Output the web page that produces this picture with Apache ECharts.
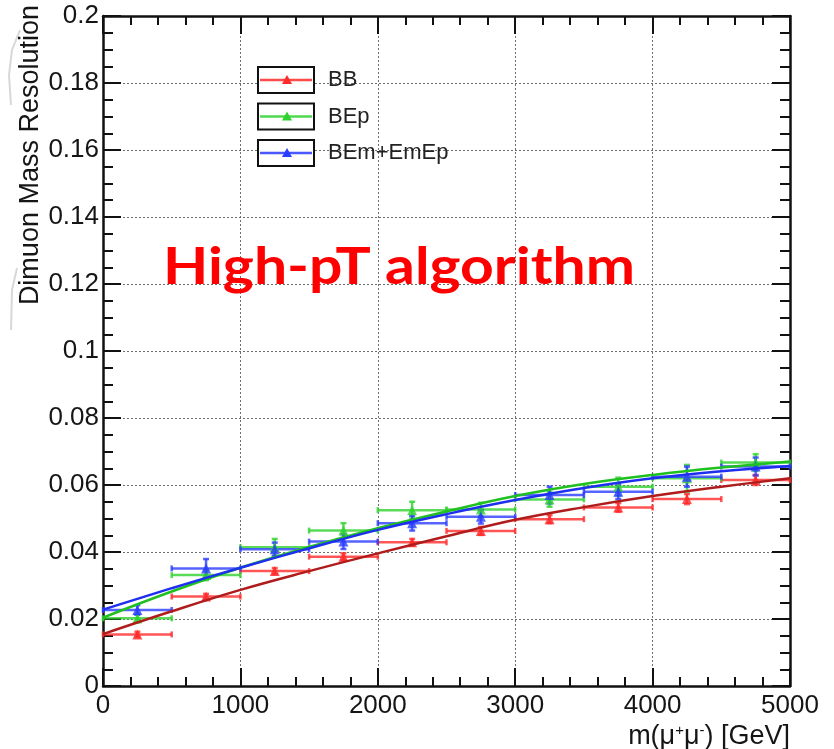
<!DOCTYPE html>
<html>
<head>
<meta charset="utf-8">
<script src="https://cdn.jsdelivr.net/npm/echarts@6/dist/echarts.min.js"></script>
<style>
  html, body { margin: 0; padding: 0; background: #fff; }
  #chart { width: 834px; height: 749px; }
</style>
</head>
<body>
<div id="chart"></div>
<script>
// Dimuon mass bins (GeV): centres and half width
const massCentres = [250, 750, 1250, 1750, 2250, 2750, 3250, 3750, 4250, 4750];
const binHalfWidth = 250;

// Measured resolution per category and its uncertainty
const bbRes   = [0.0154, 0.0267, 0.0343, 0.0386, 0.0429, 0.0463, 0.0498, 0.0533, 0.0558, 0.0615];
const bbErr   = [0.0008, 0.0008, 0.0009, 0.0010, 0.0010, 0.0012, 0.0012, 0.0013, 0.0015, 0.0015];
const bepRes  = [0.0202, 0.0331, 0.0414, 0.0464, 0.0525, 0.0527, 0.0557, 0.0595, 0.0620, 0.0667];
const bepErr  = [0.0012, 0.0015, 0.0025, 0.0022, 0.0025, 0.0020, 0.0022, 0.0027, 0.0040, 0.0025];
const bemRes  = [0.0227, 0.0351, 0.0408, 0.0431, 0.0486, 0.0505, 0.0570, 0.0580, 0.0625, 0.0655];
const bemErr  = [0.0014, 0.0028, 0.0020, 0.0022, 0.0022, 0.0020, 0.0025, 0.0022, 0.0030, 0.0027];

// Fitted resolution curves
const fitMass = [0, 500, 1000, 1500, 2000, 2500, 3000, 3500, 4000, 4500, 5000];
const bbFit   = [0.0155, 0.0223, 0.0287, 0.0343, 0.0396, 0.0447, 0.0496, 0.0534, 0.0567, 0.0595, 0.0620];
const bepFit  = [0.0204, 0.0282, 0.0353, 0.0415, 0.0471, 0.0521, 0.0567, 0.0603, 0.0630, 0.0652, 0.0670];
const bemFit  = [0.0228, 0.0292, 0.0353, 0.0411, 0.0466, 0.0513, 0.0555, 0.0591, 0.0620, 0.0641, 0.0657];

// Axis tick labels
const xTickLabels = ['0', '1000', '2000', '3000', '4000', '5000'];
const yTickLabels = ['0', '0.02', '0.04', '0.06', '0.08', '0.1', '0.12', '0.14', '0.16', '0.18', '0.2'];

const categories = [
  { name: 'BB',         res: bbRes,  err: bbErr,  fit: bbFit,  color: '#ff2a2a', fitColor: '#b01c1c' },
  { name: 'BEp',        res: bepRes, err: bepErr, fit: bepFit, color: '#2fd22f', fitColor: '#1fc01f' },
  { name: 'BEm+EmEp',   res: bemRes, err: bemErr, fit: bemFit, color: '#2a3cff', fitColor: '#1f2ff0' }
];

const chart = echarts.init(document.getElementById('chart'), null, { renderer: 'canvas' });

const labelFont = 'Liberation Sans, Arial, Helvetica, sans-serif';

function errorBarRenderer(color) {
  return function (params, api) {
    const x = api.value(0), y = api.value(1), e = api.value(2);
    const l = api.coord([x - binHalfWidth, y]);
    const r = api.coord([x + binHalfWidth, y]);
    const t = api.coord([x, y + e]);
    const b = api.coord([x, y - e]);
    const st = { stroke: color, lineWidth: 2.5, opacity: 0.8 };
    const cap = 3;
    return {
      type: 'group',
      children: [
        { type: 'line', shape: { x1: l[0], y1: l[1], x2: r[0], y2: r[1] }, style: st },
        { type: 'line', shape: { x1: t[0], y1: t[1], x2: b[0], y2: b[1] }, style: st },
        { type: 'line', shape: { x1: l[0], y1: l[1] - cap, x2: l[0], y2: l[1] + cap }, style: st },
        { type: 'line', shape: { x1: r[0], y1: r[1] - cap, x2: r[0], y2: r[1] + cap }, style: st },
        { type: 'line', shape: { x1: t[0] - cap, y1: t[1], x2: t[0] + cap, y2: t[1] }, style: st },
        { type: 'line', shape: { x1: b[0] - cap, y1: b[1], x2: b[0] + cap, y2: b[1] }, style: st }
      ]
    };
  };
}

const series = [];
categories.forEach(function (c) {
  series.push({
    name: c.name + ' errors',
    type: 'custom',
    xAxisIndex: 0, yAxisIndex: 0,
    renderItem: errorBarRenderer(c.color),
    data: massCentres.map(function (m, i) { return [m, c.res[i], c.err[i]]; }),
    silent: true, z: 3
  });
  series.push({
    name: c.name,
    type: 'scatter',
    xAxisIndex: 0, yAxisIndex: 0,
    symbol: 'triangle',
    symbolSize: 10,
    itemStyle: { color: c.color },
    data: massCentres.map(function (m, i) { return [m, c.res[i]]; }),
    z: 4
  });
  series.push({
    name: c.name + ' fit',
    type: 'line',
    xAxisIndex: 0, yAxisIndex: 0,
    smooth: 0.4,
    showSymbol: false,
    lineStyle: { color: c.fitColor, width: 2.5 },
    data: fitMass.map(function (m, i) { return [m, c.fit[i]]; }),
    z: 5
  });
});

const frameLine = { show: true, onZero: false, lineStyle: { color: '#111', width: 2.5 } };
const tickStyle = { color: '#111', width: 2 };
const gridStyle = { color: '#6e6e6e', width: 1, type: [2, 2] };

const xBase = {
  type: 'value', min: 0, max: 5000, interval: 1000,
  axisLine: frameLine,
  axisTick: { show: true, inside: true, length: 18, lineStyle: tickStyle },
  minorTick: { show: true, splitNumber: 5, length: 9, lineStyle: tickStyle }
};
const yBase = {
  type: 'value', min: 0, max: 0.2, interval: 0.02,
  axisLine: frameLine,
  axisTick: { show: true, inside: true, length: 18, lineStyle: tickStyle },
  minorTick: { show: true, splitNumber: 4, length: 10, lineStyle: tickStyle }
};

// Legend drawn as ROOT-style boxed entries
const legendGraphics = [];
categories.forEach(function (c, i) {
  const top = 67 + i * 36.5;
  legendGraphics.push({
    type: 'rect', shape: { x: 258, y: top, width: 56, height: 26 },
    style: { fill: '#fff', stroke: '#111', lineWidth: 2 }, z: 20
  });
  legendGraphics.push({
    type: 'line', shape: { x1: 260, y1: top + 13, x2: 312, y2: top + 13 },
    style: { stroke: c.color, lineWidth: 2.5, opacity: 0.85 }, z: 21
  });
  legendGraphics.push({
    type: 'polygon', shape: { points: [[287, top + 8], [282, top + 17], [292, top + 17]] },
    style: { fill: c.color }, z: 22
  });
  legendGraphics.push({
    type: 'text', x: 328, y: top + 13,
    style: { text: c.name, font: '22px ' + labelFont, fill: '#222', textVerticalAlign: 'middle' },
    z: 22
  });
});

// Headline size fitted to its span
const headFont = 'bold 51px Lato, "Open Sans", sans-serif';
const mctx = document.createElement('canvas').getContext('2d');
mctx.font = headFont;
const headWidth = mctx.measureText('High-pT algorithm').width || 472;
const headScaleX = 472 / headWidth;

chart.setOption({
  backgroundColor: '#ffffff',
  animation: false,
  grid: { left: 103, right: 44, top: 16, bottom: 63, containLabel: false },
  xAxis: [
    Object.assign({}, xBase, {
      position: 'bottom',
      axisLabel: {
        show: true, margin: 7, fontSize: 26, color: '#151515', fontFamily: labelFont,
        formatter: function (v) { return xTickLabels[Math.round(v / 1000)]; }
      },
      splitLine: { show: true, lineStyle: gridStyle }
    }),
    Object.assign({}, xBase, {
      position: 'top',
      axisLabel: { show: false },
      splitLine: { show: false }
    })
  ],
  yAxis: [
    Object.assign({}, yBase, {
      position: 'left',
      axisLabel: {
        show: true, margin: 4, fontSize: 26, color: '#151515', fontFamily: labelFont,
        formatter: function (v) { return yTickLabels[Math.round(v / 0.02)]; }
      },
      splitLine: { show: true, lineStyle: gridStyle }
    }),
    Object.assign({}, yBase, {
      position: 'right',
      axisLabel: { show: false },
      splitLine: { show: false }
    })
  ],
  series: series,
  graphic: [
    {
      type: 'text', x: 31, y: 5, rotation: Math.PI / 2,
      style: {
        text: 'Dimuon Mass Resolution', font: '27px ' + labelFont, fill: '#151515',
        textAlign: 'right', textVerticalAlign: 'middle'
      }, z: 10
    },
    {
      type: 'text', x: 790, y: 737,
      style: {
        text: 'm(μ{sup|+}μ{sup|-}) [GeV]',
        font: '27px ' + labelFont, fill: '#151515',
        textAlign: 'right', textVerticalAlign: 'middle',
        rich: { sup: { fontSize: 15, fontFamily: labelFont, verticalAlign: 'top', fill: '#151515' } }
      }, z: 10
    },
    {
      type: 'text', x: 163, y: 268, scaleX: headScaleX,
      style: {
        text: 'High-pT algorithm', font: headFont, fill: '#ff0000',
        textAlign: 'left', textVerticalAlign: 'middle'
      }, z: 30
    },
    {
      type: 'polyline', shape: { points: [[20, 30], [12, 50], [9, 75], [11, 105]] },
      style: { stroke: '#d8d8d8', lineWidth: 2, fill: null }, z: 1
    },
    {
      type: 'polyline', shape: { points: [[17, 268], [12, 290], [11, 330]] },
      style: { stroke: '#d8d8d8', lineWidth: 2, fill: null }, z: 1
    }
  ].concat(legendGraphics)
});
</script>
</body>
</html>
